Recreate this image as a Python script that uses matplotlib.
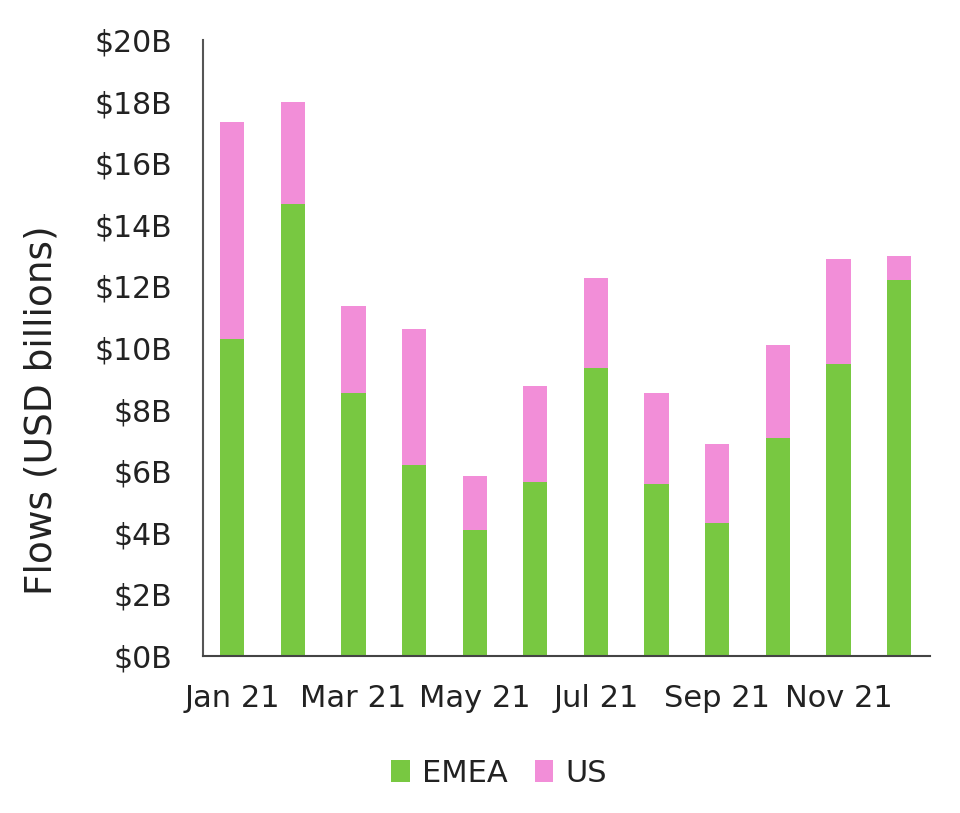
import matplotlib

matplotlib.use("Agg")
import matplotlib.pyplot as plt  # noqa: E402
import numpy as np  # noqa: E402

meses = ["Jan 21", "Feb 21", "Mar 21", "Apr 21", "May 21", "Jun 21",
         "Jul 21", "Aug 21", "Sep 21", "Oct 21", "Nov 21", "Dec 21"]
emea = [10.30, 14.68, 8.53, 6.19, 4.09, 5.65, 9.36, 5.58, 4.32, 7.08, 9.48, 12.21]
us = [7.03, 3.31, 2.83, 4.42, 1.75, 3.12, 2.90, 2.95, 2.55, 3.01, 3.41, 0.79]
yticks = [0, 2, 4, 6, 8, 10, 12, 14, 16, 18, 20]

COL_EMEA = "#78C841"
COL_US = "#F28ED8"
TXT = "#222222"

plt.rcParams["font.family"] = ["DejaVu Sans"]

fig = plt.figure(figsize=(9.6, 8.13), dpi=100)
ax = fig.add_axes([0.2115, 0.1931, 0.7573, 0.7577])

x = np.arange(len(meses))
w = 0.40
ax.bar(x, emea, w, color=COL_EMEA, label="EMEA")
ax.bar(x, us, w, bottom=emea, color=COL_US, label="US")

ax.set_xlim(-0.48, 11.51)
ax.set_ylim(0, 20)
ax.set_yticks(yticks)
ax.set_yticklabels([f"${v}B" for v in yticks], fontsize=21.5, color=TXT)
ax.set_xticks(x[::2])
ax.set_xticklabels(meses[::2], fontsize=22, color=TXT)
ax.tick_params(axis="both", length=0)
ax.tick_params(axis="y", pad=22)
ax.tick_params(axis="x", pad=20)

for s in ("top", "right"):
    ax.spines[s].set_visible(False)
ax.spines["left"].set_color("#555555")
ax.spines["left"].set_linewidth(1.5)
ax.spines["bottom"].set_color("#444444")
ax.spines["bottom"].set_linewidth(1.5)

# rotulo do eixo y deslocado para baixo, como no original
ax.set_ylabel("Flows (USD billions)", fontsize=27, color=TXT)
ax.yaxis.set_label_coords(-0.198, 0.399)

fig.legend(loc="center", bbox_to_anchor=(0.52, 0.049), ncol=2, frameon=False,
           fontsize=22, handlelength=0.6, handleheight=0.7, handletextpad=0.4,
           columnspacing=0.9, labelcolor=TXT)

plt.savefig("out.png", dpi=100)
